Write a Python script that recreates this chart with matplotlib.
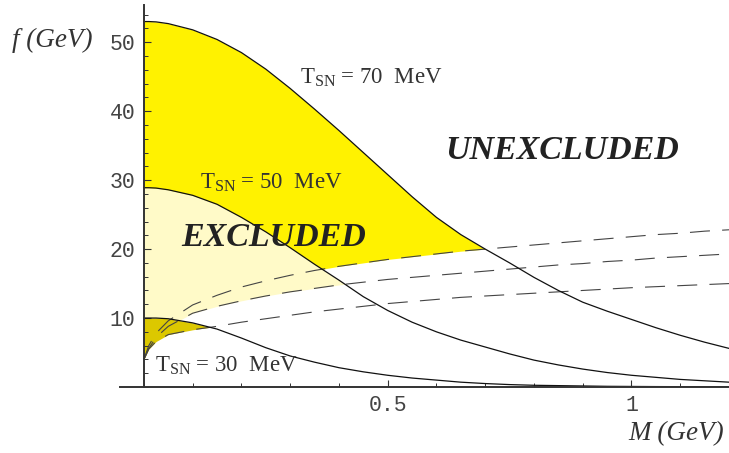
import matplotlib.pyplot as plt
import numpy as np
from matplotlib.ticker import MultipleLocator

plt.rcParams['mathtext.fontset'] = 'custom'
plt.rcParams['mathtext.rm'] = 'Liberation Serif'
plt.rcParams['mathtext.it'] = 'Liberation Serif:italic'

# M in GeV
m = [0, 0.01, 0.025, 0.05, 0.1, 0.15, 0.2, 0.25, 0.3, 0.35, 0.4, 0.45, 0.5, 0.55,
     0.6, 0.65, 0.7, 0.75, 0.8, 0.85, 0.9, 0.95, 1.0, 1.05, 1.1, 1.15, 1.2]

# solid bounds, f in GeV
t70 = [53.0, 53.0, 52.95, 52.7, 51.8, 50.4, 48.5, 46.1, 43.3, 40.3, 37.2, 34.0, 30.8, 27.6,
       24.6, 22.1, 20.0, 18.0, 15.9, 14.0, 12.3, 11.0, 9.8, 8.6, 7.5, 6.5, 5.6]
t50 = [28.9, 28.9, 28.85, 28.6, 27.8, 26.5, 24.6, 22.5, 20.2, 17.8, 15.5, 13.1, 11.1, 9.4,
       8.0, 6.8, 5.8, 4.8, 3.9, 3.2, 2.6, 2.1, 1.7, 1.4, 1.1, 0.9, 0.7]
t30 = [10.0, 10.0, 10.0, 9.9, 9.3, 8.4, 7.1, 5.7, 4.5, 3.6, 2.8, 2.2, 1.7, 1.3,
       1.0, 0.7, 0.5, 0.35, 0.25, 0.2, 0.15, 0.1, 0.08, 0.06, 0.05, 0.04, 0.03]

# dashed lower bounds
top_dash = [4.0, 6.0, 7.8, 9.6, 11.9, 13.3, 14.5, 15.4, 16.2, 16.9, 17.5, 18.0, 18.5, 18.9,
            19.3, 19.7, 20.0, 20.3, 20.6, 20.9, 21.2, 21.5, 21.8, 22.1, 22.3, 22.6, 22.8]
mid_dash = [4.0, 5.6, 7.2, 8.8, 10.7, 11.7, 12.5, 13.2, 13.8, 14.3, 14.8, 15.2, 15.6, 15.9,
            16.2, 16.5, 16.8, 17.1, 17.4, 17.7, 17.9, 18.2, 18.4, 18.7, 18.9, 19.1, 19.3]
bot_dash = [4.0, 5.5, 6.6, 7.6, 8.3, 8.8, 9.4, 9.9, 10.4, 10.9, 11.3, 11.7, 12.1, 12.4,
            12.7, 13.0, 13.2, 13.4, 13.6, 13.8, 14.0, 14.2, 14.4, 14.55, 14.7, 14.85, 15.0]

x_ticks = [0.5, 1]
x_ticklabels = ['0.5', '1']
y_ticks = [10, 20, 30, 40, 50]
y_ticklabels = ['10', '20', '30', '40', '50']

m = np.array(m)
t70 = np.array(t70)
t50 = np.array(t50)
t30 = np.array(t30)
top_dash = np.array(top_dash)
mid_dash = np.array(mid_dash)
bot_dash = np.array(bot_dash)

fig = plt.figure(figsize=(7.29, 4.53), dpi=100)
ax = fig.add_axes([120/729, 66/453, 609/729, 382/453])

ax.fill_between(m, top_dash, t70, where=t70 >= top_dash, interpolate=True,
                color='#fff200', lw=0)
ax.fill_between(m, mid_dash, t50, where=t50 >= mid_dash, interpolate=True,
                color='#fffac8', lw=0)
ax.fill_between(m, bot_dash, t30, where=t30 >= bot_dash, interpolate=True,
                color='#dcc800', lw=0)

for d in [top_dash, mid_dash, bot_dash]:
    ax.plot(m, d, color='#444444', lw=0.8, linestyle=(0, (18, 11)))
for t in [t70, t50, t30]:
    ax.plot(m, t, color='#111111', lw=0.9)

ax.set_xlim(-0.049, 1.2)
ax.set_ylim(0, 55.4)

ax.spines['left'].set_position(('data', 0))
ax.spines['bottom'].set_position(('data', 0))
ax.spines['top'].set_visible(False)
ax.spines['right'].set_visible(False)
for s in ['left', 'bottom']:
    ax.spines[s].set_linewidth(1.4)
    ax.spines[s].set_color('#333333')

ax.set_xticks(x_ticks)
ax.set_xticklabels(x_ticklabels)
ax.set_yticks(y_ticks)
ax.set_yticklabels(y_ticklabels)
ax.xaxis.set_minor_locator(MultipleLocator(0.1))
ax.yaxis.set_minor_locator(MultipleLocator(2))
ax.tick_params(which='major', direction='in', length=5, width=0.8, color='#333333',
               labelsize=15.5, labelcolor='#444444', pad=6)
ax.tick_params(which='minor', direction='in', length=3, width=0.7, color='#333333')
for lab in ax.get_xticklabels() + ax.get_yticklabels():
    lab.set_family('Liberation Mono')

txt = dict(family='Liberation Serif', color='#333333', fontsize=16.5)
ax.text(0.32, 44.8, r'T$_{\rm SN}$ = 70  MeV', va='center', ha='left', **txt)
ax.text(0.115, 29.6, r'T$_{\rm SN}$ = 50  MeV', va='center', ha='left', **txt)
ax.text(0.0225, 3.0, r'T$_{\rm SN}$ = 30  MeV', va='center', ha='left', **txt)

big = dict(family='Liberation Serif', style='italic', weight='bold', color='#222222',
           fontsize=24.5, ha='center', va='center')
ax.text(0.266, 21.7, 'EXCLUDED', **big)
ax.text(0.857, 34.3, 'UNEXCLUDED', **big)

fig.text(12/729, 1 - 40/453, 'f (GeV)', family='Liberation Serif', style='italic',
         fontsize=19.5, color='#333333', ha='left', va='center')
fig.text(724/729, 1 - 434/453, 'M (GeV)', family='Liberation Serif', style='italic',
         fontsize=19.5, color='#333333', ha='right', va='center')

fig.savefig('out.png', dpi=100)
